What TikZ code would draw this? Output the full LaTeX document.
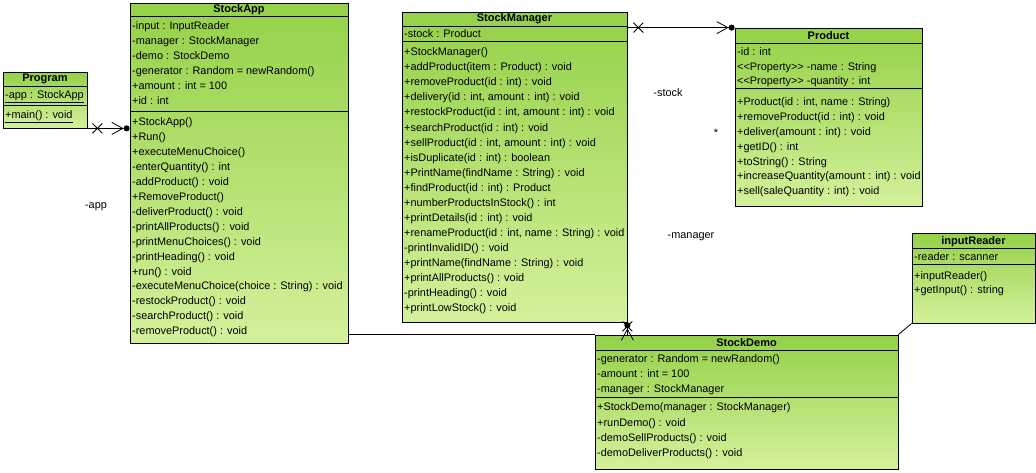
\documentclass[tikz,border=0pt]{standalone}
\usepackage{fontspec}
\newfontfamily\vpfont{Liberation Sans}
\usetikzlibrary{arrows.meta,shapes.misc}
\definecolor{vpTop}{RGB}{148,209,72}
\definecolor{vpBottom}{RGB}{212,241,155}
\tikzset{
	classbox/.style={shape=rectangle, draw, line width=0.8pt, top color=vpTop, bottom color=vpBottom, inner sep=0pt},
	classname/.style={anchor=center, inner sep=0pt, font=\vpfont\bfseries\fontsize{11}{12}\selectfont},
	member/.style={anchor=west, inner sep=0pt, text height=7.5pt, text depth=2pt, font=\vpfont\fontsize{10.9}{12}\selectfont},
	rolename/.style={anchor=center, inner sep=0pt, font=\vpfont\fontsize{10.9}{12}\selectfont},
	assoc/.style={draw, line width=0.8pt},
	owned/.style={assoc, -{Straight Barb[length=11pt, width=12pt, line width=0.8pt] Circle[length=6pt]}},
	xmark/.style={shape=cross out, draw, line width=0.8pt, minimum size=9pt, inner sep=0pt}
}
\begin{document}
\begin{tikzpicture}[x=1pt, y=-1pt]
	\useasboundingbox (0,0) rectangle (1036,472);
	% Class boxes:
	\node[classbox, minimum width=84pt, minimum height=56pt] (program) at (45,100){};
	\node[classbox, minimum width=218pt, minimum height=340pt] (stockApp) at (239,173){};
	\node[classbox, minimum width=225pt, minimum height=310pt] (stockManager) at (514.5,167){};
	\node[classbox, minimum width=187pt, minimum height=178pt] (product) at (828.5,117){};
	\node[classbox, minimum width=303pt, minimum height=134pt] (stockDemo) at (746.5,402){};
	\node[classbox, minimum width=123pt, minimum height=90pt] (inputReader) at (973.5,278){};
	% Compartment lines:
	\draw[line width=0.8pt] ([yshift=-15pt]program.north west) -- ([yshift=-15pt]program.north east);
	\draw[line width=0.8pt] ([yshift=-34pt]program.north west) -- ([yshift=-34pt]program.north east);
	\draw[line width=0.8pt] ([yshift=-14pt]stockApp.north west) -- ([yshift=-14pt]stockApp.north east);
	\draw[line width=0.8pt] ([yshift=-109pt]stockApp.north west) -- ([yshift=-109pt]stockApp.north east);
	\draw[line width=0.8pt] ([yshift=-15pt]stockManager.north west) -- ([yshift=-15pt]stockManager.north east);
	\draw[line width=0.8pt] ([yshift=-30pt]stockManager.north west) -- ([yshift=-30pt]stockManager.north east);
	\draw[line width=0.8pt] ([yshift=-16pt]product.north west) -- ([yshift=-16pt]product.north east);
	\draw[line width=0.8pt] ([yshift=-61pt]product.north west) -- ([yshift=-61pt]product.north east);
	\draw[line width=0.8pt] ([yshift=-16pt]stockDemo.north west) -- ([yshift=-16pt]stockDemo.north east);
	\draw[line width=0.8pt] ([yshift=-63pt]stockDemo.north west) -- ([yshift=-63pt]stockDemo.north east);
	\draw[line width=0.8pt] ([yshift=-16pt]inputReader.north west) -- ([yshift=-16pt]inputReader.north east);
	\draw[line width=0.8pt] ([yshift=-32pt]inputReader.north west) -- ([yshift=-32pt]inputReader.north east);
	% Names and members:
	\node[classname] (program-name) at (45,79){Program};
	\node[member] (program-a1) at (5,96){\underline{-app : StockApp}};
	\node[member] (program-o1) at (5,116){\underline{+main() : void}};
	\node[classname] (stockApp-name) at (239,10){StockApp};
	\foreach \t [count=\i] in {-input : InputReader, -manager : StockManager, -demo : StockDemo, -generator : Random = newRandom(), +amount : int = 100, +id : int}
		\node[member] (stockApp-a\i) at (132,{27+15*(\i-1)}){\t};
	\foreach \t [count=\i] in {+StockApp(), +Run(), +executeMenuChoice(), -enterQuantity() : int, -addProduct() : void, +RemoveProduct(), -deliverProduct() : void, -printAllProducts() : void, -printMenuChoices() : void, -printHeading() : void, +run() : void, -executeMenuChoice(choice : String) : void, -restockProduct() : void, -searchProduct() : void, -removeProduct() : void}
		\node[member] (stockApp-o\i) at (132,{123+14.93*(\i-1)}){\t};
	\node[classname] (stockManager-name) at (514.5,19){StockManager};
	\node[member] (stockManager-a1) at (404,34.5){-stock : Product};
	\foreach \t [count=\i] in {+StockManager(), +addProduct(item : Product) : void, +removeProduct(id : int) : void, {+delivery(id : int, amount : int) : void}, {+restockProduct(id : int, amount : int) : void}, +searchProduct(id : int) : void, {+sellProduct(id : int, amount : int) : void}, +isDuplicate(id : int) : boolean, +PrintName(findName : String) : void, +findProduct(id : int) : Product, +numberProductsInStock() : int, +printDetails(id : int) : void, {+renameProduct(id : int, name : String) : void}, -printInvalidID() : void, +printName(findName : String) : void, +printAllProducts() : void, -printHeading() : void, +printLowStock() : void}
		\node[member] (stockManager-o\i) at (404,{53+15.06*(\i-1)}){\t};
	\node[classname] (product-name) at (828.5,36){Product};
	\foreach \t [count=\i] in {-id : int, <<Property>> -name : String, <<Property>> -quantity : int}
		\node[member] (product-a\i) at (737,{53+14.5*(\i-1)}){\t};
	\foreach \t [count=\i] in {{+Product(id : int, name : String)}, +removeProduct(id : int) : void, +deliver(amount : int) : void, +getID() : int, +toString() : String, +increaseQuantity(amount : int) : void, +sell(saleQuantity : int) : void}
		\node[member] (product-o\i) at (737,{103+14.83*(\i-1)}){\t};
	\node[classname] (stockDemo-name) at (746.5,343){StockDemo};
	\foreach \t [count=\i] in {-generator : Random = newRandom(), -amount : int = 100, -manager : StockManager}
		\node[member] (stockDemo-a\i) at (597,{360+15*(\i-1)}){\t};
	\foreach \t [count=\i] in {+StockDemo(manager : StockManager), +runDemo() : void, -demoSellProducts() : void, -demoDeliverProducts() : void}
		\node[member] (stockDemo-o\i) at (597,{408+15.33*(\i-1)}){\t};
	\node[classname] (inputReader-name) at (973.5,242){inputReader};
	\node[member] (inputReader-a1) at (914,258){-reader : scanner};
	\node[member] (inputReader-o1) at (914,277){+inputReader()};
	\node[member] (inputReader-o2) at (914,291){+getInput() : string};
	% Associations:
	\coordinate (appEnd) at (program.south east -| stockApp.west);
	\draw[owned] (program.south east) -- (appEnd);
	\node[xmark] (appCross) at ([xshift=10pt]program.south east){};
	\coordinate (stockStart) at (stockManager.east |- product.north west);
	\draw[owned] (stockStart) -- (product.north west);
	\node[xmark] (stockCross) at ([xshift=11pt]stockStart){};
	\coordinate (managerStart) at (stockManager.south east |- stockDemo.north);
	\draw[owned] (managerStart) -- (stockManager.south east);
	\node[xmark] (managerCross) at ([yshift=-4pt]stockManager.south east){};
	\coordinate (demoStart) at (stockDemo.north west -| stockApp.east);
	\draw[assoc] (demoStart) -- (stockDemo.north west);
	\draw[assoc] (stockDemo.north east) -- (inputReader.south west);
	% Role names:
	\node[rolename] (appRole) at (96,207){-app};
	\node[rolename] (stockRole) at (668,93){-stock};
	\node[rolename] (stockMult) at (716,133){*};
	\node[rolename] (managerRole) at (691,237){-manager};
\end{tikzpicture}
\end{document}
